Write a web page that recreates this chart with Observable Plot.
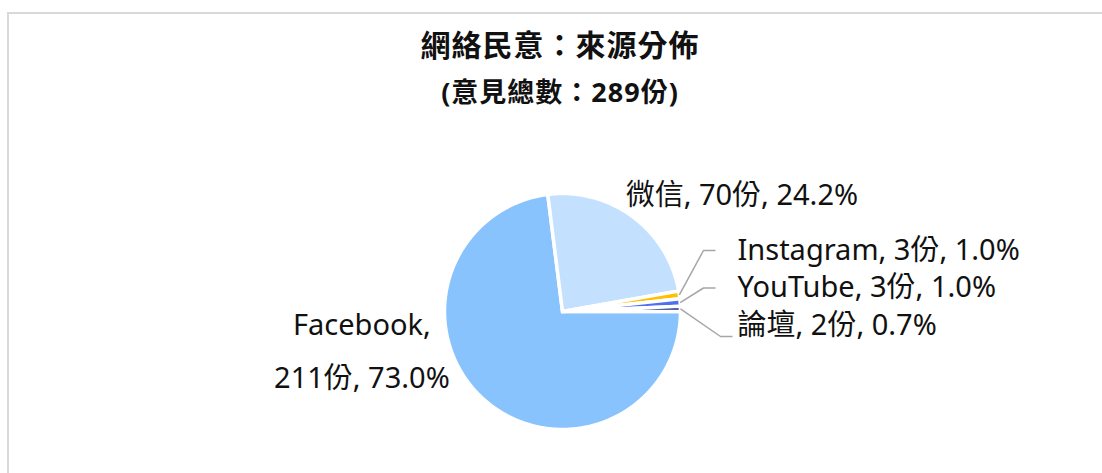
<!DOCTYPE html>
<html><head><meta charset="utf-8">
<script src="https://cdn.jsdelivr.net/npm/d3@7"></script>
<script src="https://cdn.jsdelivr.net/npm/@observablehq/plot@0.6"></script>
<style>
body{margin:0;width:1102px;height:473px;overflow:hidden;background:#fff;position:relative;font-family:"Noto Sans","Noto Sans CJK TC",sans-serif;}
#frame{position:absolute;left:7px;top:12px;width:1200px;height:600px;border:2px solid #d9d9d9;box-sizing:border-box}
#chart{position:absolute;left:0;top:0}
.ttl{position:absolute;left:0;width:1120px;text-align:center;font-weight:bold;color:#111;font-family:"Noto Sans","Noto Sans CJK TC",sans-serif}
#title{top:27px;font-size:30px;line-height:36px;letter-spacing:1px}
#subtitle{top:77px;font-size:27px;line-height:30px;letter-spacing:1px}
</style></head><body>
<div id="frame"></div>
<div id="chart"></div>
<div id="title" class="ttl">網絡民意：來源分佈</div>
<div id="subtitle" class="ttl">(意見總數：289份)</div>
<script>
// ---- data ----
const sources  = ["Facebook", "微信", "Instagram", "YouTube", "論壇"];
const counts   = [211, 70, 3, 3, 2];
const percents = ["73.0%", "24.2%", "1.0%", "1.0%", "0.7%"];
const unit     = "份";
const colors   = ["#88c3fe", "#c3e0ff", "#ffc000", "#4f6ff0", "#1f3380"];

// ---- layout ----
const W = 1102, H = 473, cx = 562, cy = 311, R = 118;
const font = '"Noto Sans","Noto Sans CJK TC",sans-serif';
const fs = 29;

const arcs = d3.pie().sort(null).startAngle(Math.PI / 2).endAngle(Math.PI / 2 + 2 * Math.PI)(counts);
const pt = (a, r) => ({x: r * Math.sin(a), y: r * Math.cos(a)});

// slice polygons
const poly = [];
arcs.forEach((a, i) => {
  poly.push({source: sources[i], ...pt(0, 0)});
  const n = Math.max(4, Math.ceil((a.endAngle - a.startAngle) / 0.01));
  for (let k = 0; k <= n; k++) {
    const t = a.startAngle + (a.endAngle - a.startAngle) * k / n;
    poly.push({source: sources[i], ...pt(t, 1)});
  }
});

const labelText = i => `${sources[i]}, ${counts[i]}${unit}, ${percents[i]}`;

// big slices: labels beside the pie (offsets in radius units)
const leftLabel  = [{x: -1.70, y: -0.28, text: `${sources[0]},\n${counts[0]}${unit}, ${percents[0]}`}];
const rightLabel = [{x: 0.535, y: 0.985, text: labelText(1)}];

// small slices: stacked callouts with leader lines
const small = [2, 3, 4];
const textX = (737 - cx) / R;
const rowStep = 37.5 / R, row0 = 61 / R;
const callouts = small.map((i, k) => ({i, x: textX, y: row0 - k * rowStep, text: labelText(i)}));
const leaders = [];
callouts.forEach(c => {
  const a = arcs[c.i];
  const s = pt((a.startAngle + a.endAngle) / 2, 1.0);
  let yA = c.y, e1 = c.x - 34 / R, e2 = c.x - 22 / R;
  if (c.y < s.y - 15 / R) { yA = c.y - 11 / R; e1 = c.x - 17 / R; e2 = c.x - 5 / R; }
  leaders.push({id: c.i, x: s.x, y: s.y}, {id: c.i, x: e1, y: yA}, {id: c.i, x: e2, y: yA});
});

const chart = Plot.plot({
  width: W, height: H, margin: 0,
  x: {domain: [-cx / R, (W - cx) / R], range: [0, W], axis: null},
  y: {domain: [-(H - cy) / R, cy / R], range: [H, 0], axis: null},
  color: {domain: sources, range: colors},
  style: {background: "transparent", fontFamily: font},
  marks: [
    Plot.line(poly, {x: "x", y: "y", z: "source", fill: "source", stroke: "white", strokeWidth: 3.5, curve: "linear-closed", strokeLinejoin: "miter", strokeMiterlimit: 2}),
    Plot.line(leaders, {x: "x", y: "y", z: "id", stroke: "#a6a6a6", strokeWidth: 1.5, strokeLinejoin: "miter", strokeLinecap: "butt"}),
    Plot.text(leftLabel, {x: "x", y: "y", text: "text", textAnchor: "middle", fontSize: fs, lineHeight: 1.83, fill: "#111"}),
    Plot.text(rightLabel, {x: "x", y: "y", text: "text", textAnchor: "start", fontSize: fs, fill: "#111"}),
    Plot.text(callouts, {x: "x", y: "y", text: "text", textAnchor: "start", fontSize: fs, fill: "#111"})
  ]
});
document.getElementById("chart").appendChild(chart);
</script>
</body></html>
